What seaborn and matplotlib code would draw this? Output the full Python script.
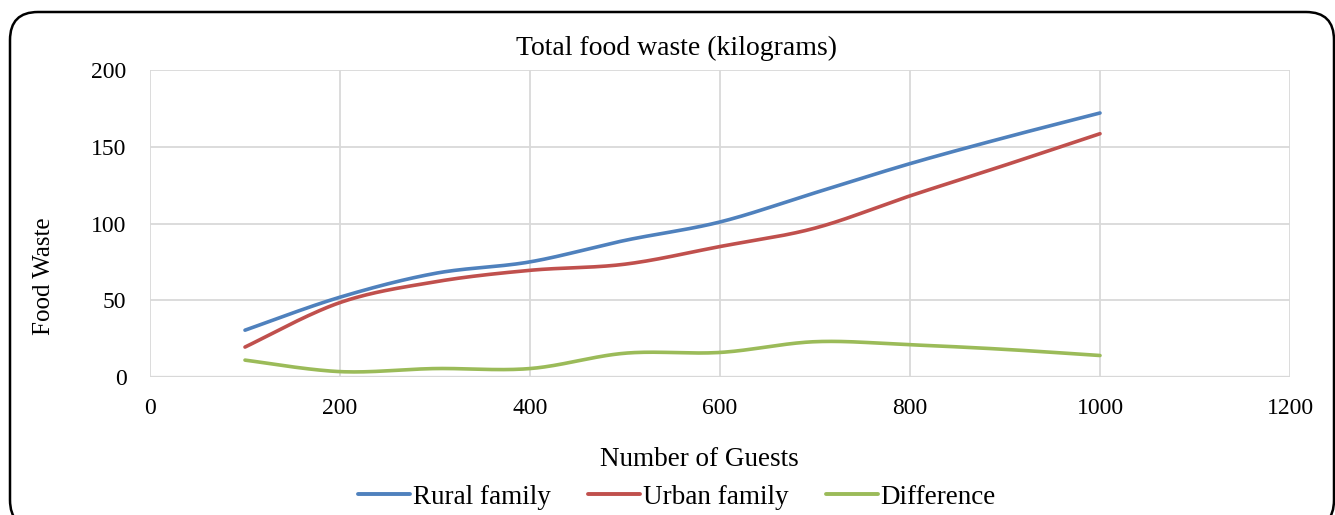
import numpy as np
import pandas as pd
import matplotlib
matplotlib.use("Agg")
import matplotlib.pyplot as plt
import seaborn as sns
from matplotlib.patches import FancyBboxPatch
from matplotlib.transforms import IdentityTransform

guests = [100, 200, 300, 400, 500, 600, 700, 800, 900, 1000]
rural = [30.5, 52, 67.5, 75, 89, 101, 120, 139, 156, 172]
urban = [19.5, 48.5, 62, 69.5, 73.5, 85, 97, 118, 138, 158.5]
difference = [11, 3.5, 5.5, 5.5, 15.5, 16, 23, 21, 18, 14]

series_names = ["Rural family", "Urban family", "Difference"]
series_values = [rural, urban, difference]
colors = ["#4F81BD", "#C0504D", "#9BBB59"]


def smooth(xs, ys, sx=0.95, sy=1.535, n=40):
    """Catmull-Rom style Bezier smoothing computed in screen-like units."""
    px = np.asarray(xs, float) * sx
    py = np.asarray(ys, float) * sy
    pts = np.column_stack([px, py])
    out = []
    for i in range(len(pts) - 1):
        p0 = pts[i - 1] if i > 0 else pts[i]
        p1 = pts[i]
        p2 = pts[i + 1]
        p3 = pts[i + 2] if i + 2 < len(pts) else pts[i + 1]
        c1 = p1 + (p2 - p0) / 6.0
        c2 = p2 - (p3 - p1) / 6.0
        t = np.linspace(0, 1, n, endpoint=(i == len(pts) - 2))[:, None]
        b = ((1 - t) ** 3) * p1 + 3 * ((1 - t) ** 2) * t * c1 + 3 * (1 - t) * t ** 2 * c2 + t ** 3 * p2
        out.append(b)
    arr = np.vstack(out)
    return arr[:, 0] / sx, arr[:, 1] / sy


frames = []
for name, vals in zip(series_names, series_values):
    sx_, sy_ = smooth(guests, vals)
    frames.append(pd.DataFrame({"guests": sx_, "waste": sy_, "series": name}))
df = pd.concat(frames, ignore_index=True)

sns.set_theme(style="white")
plt.rcParams["font.family"] = ["Liberation Serif", "DejaVu Serif"]
plt.rcParams["text.color"] = "black"
plt.rcParams["axes.labelcolor"] = "black"

fig = plt.figure(figsize=(13.35, 5.15), dpi=100)
ax = fig.add_axes([150 / 1335, 1 - 377 / 515, 1140 / 1335, 307 / 515])

sns.lineplot(data=df, x="guests", y="waste", hue="series", hue_order=series_names,
             palette=colors, estimator=None, sort=False,
             linewidth=2.6, ax=ax, legend=False, zorder=3)

ax.set_xlim(0, 1200)
ax.set_ylim(0, 200)
ax.set_xticks(np.arange(0, 1201, 200))
ax.set_yticks(np.arange(0, 201, 50))
ax.grid(True, color="#D9D9D9", linewidth=1.3)
for s in ax.spines.values():
    s.set_visible(False)
ax.axhline(0, color="#D0D0D0", linewidth=1.6, zorder=0.5)
ax.tick_params(axis="both", length=0, labelsize=17, colors="black")
ax.tick_params(axis="x", pad=15)
ax.tick_params(axis="y", pad=17)
ax.set_xlabel("Number of Guests", fontsize=19.5)
ax.xaxis.set_label_coords((699 - 150) / 1140, (377 - 459) / 307)
ax.xaxis.label.set_va("center")
ax.set_ylabel("Food Waste", fontsize=18)
ax.yaxis.set_label_coords((44 - 150) / 1140, (377 - 276) / 307)
ax.yaxis.label.set_va("center")
fig.text(677 / 1335, 1 - 48 / 515, "Total food waste (kilograms)", fontsize=20,
         ha="center", va="center")

handles = [plt.Line2D([0], [0], color=c, linewidth=2.8) for c in colors]
fig.legend(handles, series_names, loc="center", bbox_to_anchor=(677 / 1335, 1 - 497 / 515),
           ncol=3, frameon=False, fontsize=19.5, handlelength=1.9, handletextpad=0.1,
           columnspacing=1.4)

border = FancyBboxPatch((10, -13), 1324, 516,
                        boxstyle="round,pad=0,rounding_size=28",
                        transform=IdentityTransform(), fill=False, edgecolor="black",
                        linewidth=1.8)
fig.patches.append(border)

fig.savefig("out.png", dpi=100, facecolor="white")
